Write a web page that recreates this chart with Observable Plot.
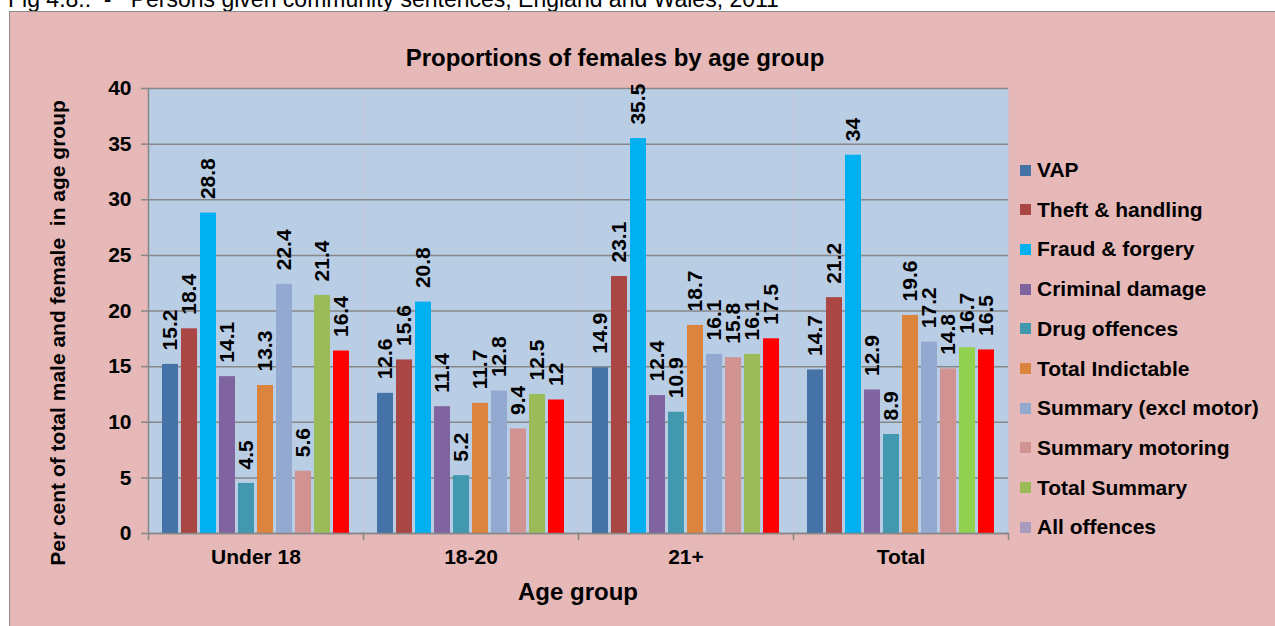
<!DOCTYPE html>
<html>
<head>
<meta charset="utf-8">
<script src="https://cdn.jsdelivr.net/npm/d3@7"></script>
<script src="https://cdn.jsdelivr.net/npm/@observablehq/plot@0.6"></script>
<style>
  body { margin:0; background:#fff; width:1275px; height:626px; overflow:hidden; position:relative;
         font-family:"Liberation Sans", Arial, sans-serif; }
  .abs { position:absolute; white-space:pre; color:#000; }
  .b { font-weight:bold; }
  #legend .row { position:absolute; left:1020px; height:24px; display:flex; align-items:center; }
  #legend .sw { width:11px; height:11px; margin-right:6px; }
  #legend .lbl { font-size:21px; font-weight:bold; }
</style>
</head>
<body>
<div class="abs" id="fig" style="left:8px; top:-12px; font-size:23px; line-height:23px;">Fig 4.8.:  -   Persons given community sentences, England and Wales, 2011</div>
<div class="abs" style="left:9px; top:11px; width:1300px; height:700px; background:#E6B9B8; border:1px solid #8a8a8a;"></div>
<div class="abs" id="chart" style="left:0; top:0;"></div>
<div class="abs b" id="title" style="left:315px; width:600px; text-align:center; top:46px; font-size:24px; line-height:24px;"></div>
<div class="abs b" id="xtitle" style="left:378px; width:400px; text-align:center; top:580px; font-size:24px; line-height:24px;"></div>
<div class="abs b" id="ytitle" style="left:57px; top:333px; font-size:21px; line-height:21px; transform:translate(-50%,-50%) rotate(-90deg);"></div>
<div id="legend"></div>
<script>
// ---- data ----
const chartTitle = "Proportions of females by age group";
const xTitle = "Age group";
const yTitle = "Per cent of total male and female  in age group";
const ageGroups = ["Under 18", "18-20", "21+", "Total"];
const series = ["VAP", "Theft & handling", "Fraud & forgery", "Criminal damage", "Drug offences",
  "Total Indictable", "Summary (excl motor)", "Summary motoring", "Total Summary", "All offences"];
const seriesColors = ["#4572A7", "#AA4643", "#00B0F0", "#80649F", "#4198AF",
  "#DB843D", "#93A9CF", "#D19392", "#9BBB59", "#A99BBD"];
const valuesUnder18 = [15.2, 18.4, 28.8, 14.1, 4.5, 13.3, 22.4, 5.6, 21.4, 16.4];
const values18to20  = [12.6, 15.6, 20.8, 11.4, 5.2, 11.7, 12.8, 9.4, 12.5, 12];
const values21plus  = [14.9, 23.1, 35.5, 12.4, 10.9, 18.7, 16.1, 15.8, 16.1, 17.5];
const valuesTotal   = [14.7, 21.2, 34, 12.9, 8.9, 19.6, 17.2, 14.8, 16.7, 16.5];
const yTicks = [0, 5, 10, 15, 20, 25, 30, 35, 40];

// ---- table built from arrays ----
const valuesByGroup = [valuesUnder18, values18to20, values21plus, valuesTotal];
const data = [];
ageGroups.forEach((g, gi) => series.forEach((s, si) =>
  data.push({group: g, series: s, value: valuesByGroup[gi][si]})));

// bar colour (the "All offences" bars are drawn red; Total Summary in Total group brighter green)
const colorOf = new Map(series.map((s, i) => [s, seriesColors[i]]));
function barFill(d) {
  if (d.series === "All offences") return "#FF0000";
  if (d.series === "Total Summary" && d.group === "Total") return "#92D050";
  return colorOf.get(d.series);
}

const grey = "#878787";
const plot = Plot.plot({
  width: 1275, height: 626,
  marginLeft: 148, marginRight: 267, marginTop: 88, marginBottom: 93,
  style: {background: "transparent", fontFamily: "'Liberation Sans', Arial, sans-serif",
          fontWeight: "bold", color: "#000", overflow: "visible"},
  fx: {domain: ageGroups, padding: 0, label: null},
  x: {domain: series, paddingInner: 0.18, paddingOuter: 0.6, axis: null},
  y: {domain: [0, 40], label: null},
  color: {type: "identity"},
  marks: [
    Plot.frame({fill: "#B9CDE5"}),
    Plot.gridY(yTicks, {stroke: grey, strokeOpacity: 1, strokeWidth: 1.5}),
    Plot.barY(data, {fx: "group", x: "series", y: "value", fill: barFill}),
    Plot.text(data, {fx: "group", x: "series", y: "value", text: d => String(d.value),
      rotate: -90, textAnchor: "start", lineAnchor: "middle", dy: -14,
      fontSize: 21, fontWeight: "bold", fill: "#000"}),
    Plot.ruleY([0], {stroke: grey, strokeWidth: 1.5}),
    Plot.frame({anchor: "left", facetAnchor: "left", stroke: grey, strokeWidth: 1.5}),
    Plot.frame({anchor: "left", insetTop: 445, insetBottom: -6, stroke: grey, strokeWidth: 1.5}),
    Plot.frame({anchor: "right", facetAnchor: "right", insetTop: 445, insetBottom: -6, stroke: grey, strokeWidth: 1.5}),
    Plot.axisY(yTicks, {tickSize: 7, tickPadding: 10, fontSize: 21, fontWeight: "bold",
      stroke: grey, strokeWidth: 1.5, label: null, fill: "#000"}),
    Plot.axisFx({anchor: "bottom", tickSize: 0, tickPadding: 16, fontSize: 21, fontWeight: "bold", label: null, fill: "#000"})
  ]
});
document.getElementById("chart").appendChild(plot);

document.getElementById("title").textContent = chartTitle;
document.getElementById("xtitle").textContent = xTitle;
document.getElementById("ytitle").textContent = yTitle;

const legend = document.getElementById("legend");
series.forEach((s, i) => {
  const row = document.createElement("div");
  row.className = "row";
  row.style.top = (170 - 12 + i * 39.7) + "px";
  const sw = document.createElement("div");
  sw.className = "sw";
  sw.style.background = seriesColors[i];
  const lbl = document.createElement("span");
  lbl.className = "lbl";
  lbl.textContent = s;
  row.appendChild(sw); row.appendChild(lbl);
  legend.appendChild(row);
});
</script>
</body>
</html>
